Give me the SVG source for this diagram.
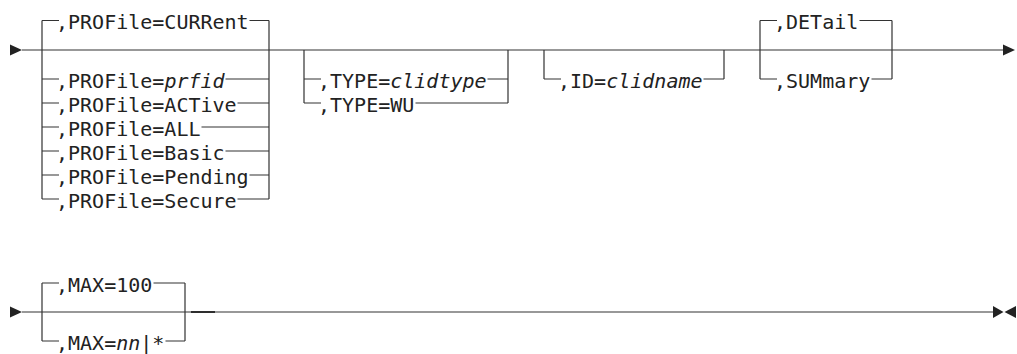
<svg xmlns="http://www.w3.org/2000/svg" width="1017" height="354" viewBox="0 0 1017 354">
<style>
.l{stroke:#333;stroke-width:1.2;fill:none}
.a{fill:#222;stroke:none}
.t{font-family:"DejaVu Sans Mono","Liberation Mono",monospace;font-size:20px;fill:#222}
.v{font-style:italic}
</style>
<rect width="1017" height="354" fill="#fff"/>
<g id="connectors">
<path class="l" d="M22,50H1003"/>
<polygon class="a" points="10,44.5 10,55.5 22,50"/>
<polygon class="a" points="1003,44.5 1003,55.5 1015,50"/>
<path class="l" d="M42,20.5V199M269,20.5V199"/>
<path class="l" d="M304,50V103M508,50V103"/>
<path class="l" d="M544,50V79M724,50V79"/>
<path class="l" d="M760,20.5V79M892,20.5V79"/>
<path class="l" d="M22,312H993"/>
<path d="M191,312H215" stroke="#222" stroke-width="1.8"/>
<polygon class="a" points="10,306.5 10,317.5 22,312"/>
<polygon class="a" points="993,306 993,318 1003.5,312"/>
<polygon class="a" points="1016,306 1016,318 1004.5,312"/>
<path class="l" d="M42,283V341M185,283V341"/>
</g>
<g id="profile-current"><path class="l" d="M42,20.5H59M249.5,20.5H269"/><text class="t" x="56" y="29">,PROFile=CURRent</text></g>
<g id="profile-prfid"><path class="l" d="M42,79H59M225.5,79H269"/><text class="t" x="56" y="87.5">,PROFile=<tspan class="v">prfid</tspan></text></g>
<g id="profile-active"><path class="l" d="M42,103H59M237.5,103H269"/><text class="t" x="56" y="111.5">,PROFile=ACTive</text></g>
<g id="profile-all"><path class="l" d="M42,127H59M201.5,127H269"/><text class="t" x="56" y="135.5">,PROFile=ALL</text></g>
<g id="profile-basic"><path class="l" d="M42,151H59M225.5,151H269"/><text class="t" x="56" y="159.5">,PROFile=Basic</text></g>
<g id="profile-pending"><path class="l" d="M42,175H59M249.5,175H269"/><text class="t" x="56" y="183.5">,PROFile=Pending</text></g>
<g id="profile-secure"><path class="l" d="M42,199H59M237.5,199H269"/><text class="t" x="56" y="207.5">,PROFile=Secure</text></g>
<g id="type-clidtype"><path class="l" d="M304,79H321M487.5,79H508"/><text class="t" x="318" y="87.5">,TYPE=<tspan class="v">clidtype</tspan></text></g>
<g id="type-wu"><path class="l" d="M304,103H321M415.5,103H508"/><text class="t" x="318" y="111.5">,TYPE=WU</text></g>
<g id="id-clidname"><path class="l" d="M544,79H561M703.5,79H724"/><text class="t" x="558" y="87.5">,ID=<tspan class="v">clidname</tspan></text></g>
<g id="detail"><path class="l" d="M760,20.5H777M859.5,20.5H892"/><text class="t" x="774" y="29">,DETail</text></g>
<g id="summary"><path class="l" d="M760,79H777M871.5,79H892"/><text class="t" x="774" y="87.5">,SUMmary</text></g>
<g id="max-100"><path class="l" d="M42,283H59M153.5,283H185"/><text class="t" x="56" y="291.5">,MAX=100</text></g>
<g id="max-nn"><path class="l" d="M42,341H59M165.5,341H185"/><text class="t" x="56" y="349.5">,MAX=<tspan class="v">nn</tspan>|*</text></g>
</svg>
